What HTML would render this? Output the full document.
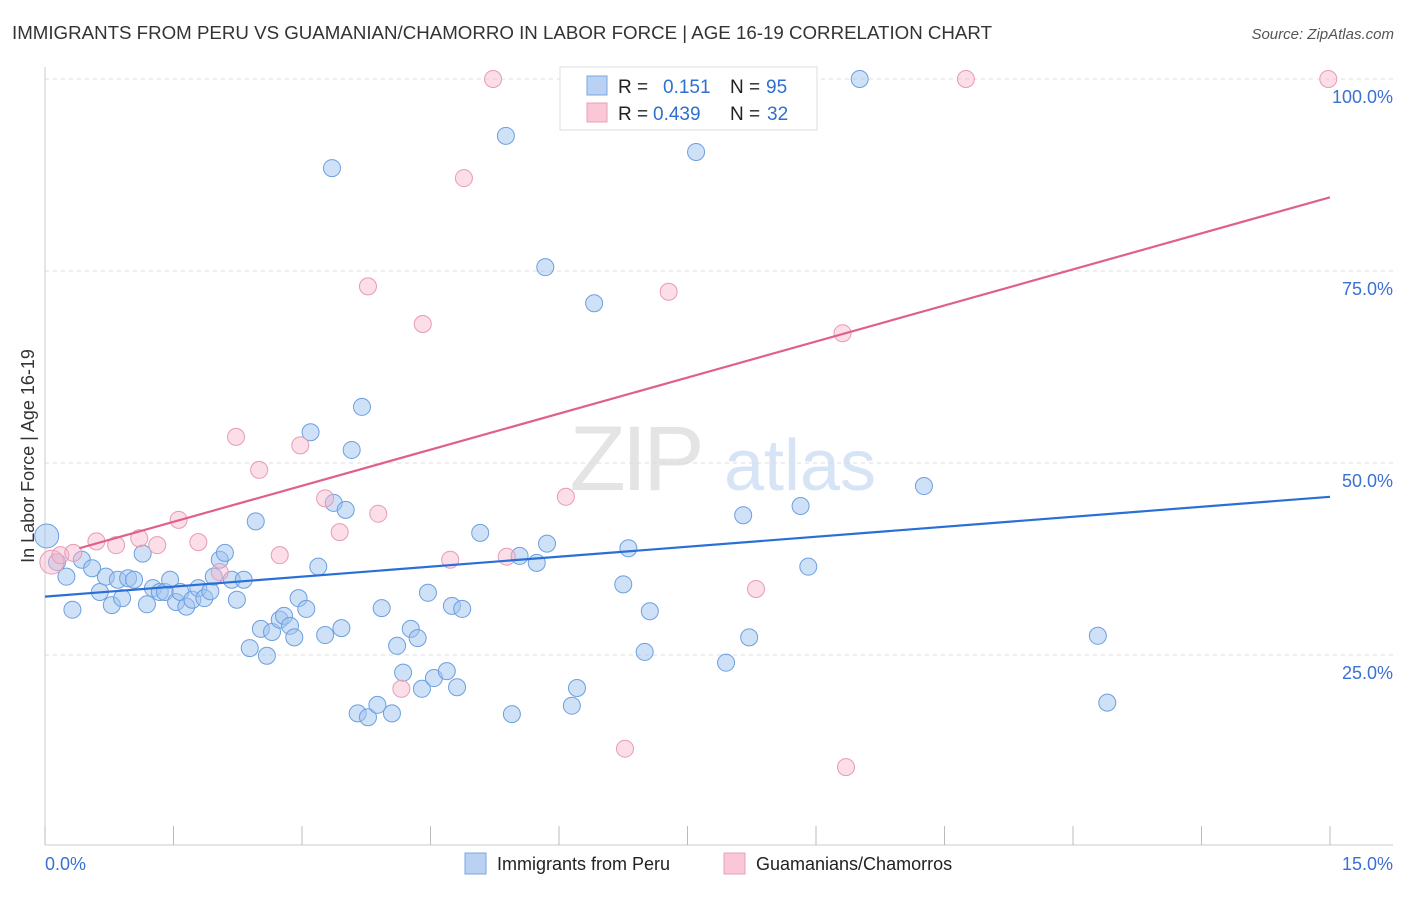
<!DOCTYPE html>
<html><head><meta charset="utf-8"><style>
body{margin:0;background:#fff;font-family:"Liberation Sans",sans-serif;}
svg text{font-family:"Liberation Sans",sans-serif;}
</style></head><body>
<svg id="chart" width="1406" height="892" viewBox="0 0 1406 892" xmlns="http://www.w3.org/2000/svg">
<text x="12" y="39" font-size="18" fill="#333" textLength="980" lengthAdjust="spacingAndGlyphs">IMMIGRANTS FROM PERU VS GUAMANIAN/CHAMORRO IN LABOR FORCE | AGE 16-19 CORRELATION CHART</text>
<text x="1394" y="39" font-size="15" fill="#555" text-anchor="end" font-style="italic">Source: ZipAtlas.com</text>
<g>
<text x="635" y="490" font-size="92" fill="#e4e4e4" text-anchor="middle" font-family="Liberation Serif" letter-spacing="-4">ZIP</text>
<text x="800" y="490" font-size="72" fill="#d6e4f6" text-anchor="middle">atlas</text>
</g>
<g id="grid"></g>
<g id="axes"></g>
<g id="marks"></g>
<g>
<rect x="560" y="67" width="257" height="63" fill="#fff" stroke="#ddd"/>
<rect x="587" y="76" width="20" height="19" fill="#b9d2f4" stroke="#7aa6e0"/>
<rect x="587" y="103" width="20" height="19" fill="#f9c7d6" stroke="#e9a0b8"/>
<text y="93" font-size="19" fill="#222"><tspan x="618">R =</tspan><tspan x="663" fill="#2f6fd0">0.151</tspan><tspan x="730">N =</tspan><tspan x="766" fill="#2f6fd0">95</tspan></text>
<text y="120" font-size="19" fill="#222"><tspan x="618">R =</tspan><tspan x="653" fill="#2f6fd0">0.439</tspan><tspan x="730">N =</tspan><tspan x="767" fill="#2f6fd0">32</tspan></text>
</g>
<g>
<rect x="465" y="853" width="21" height="21" fill="#b9d2f4" stroke="#7aa6e0"/>
<text x="497" y="870" font-size="18" fill="#222">Immigrants from Peru</text>
<rect x="724" y="853" width="21" height="21" fill="#f9c7d6" stroke="#e9a0b8"/>
<text x="756" y="870" font-size="18" fill="#222">Guamanians/Chamorros</text>
</g>
<text x="34" y="456" font-size="18" fill="#333" text-anchor="middle" transform="rotate(-90 34 456)">In Labor Force | Age 16-19</text>
</svg>
<script>
const blueX=[0.02,0.14,0.25,0.32,0.43,0.55,0.64,0.71,0.78,0.85,0.90,0.97,1.04,1.14,1.19,1.26,1.34,1.40,1.46,1.53,1.58,1.65,1.72,1.79,1.86,1.93,1.97,2.04,2.10,2.18,2.24,2.32,2.46,2.39,2.52,2.59,2.65,2.74,2.79,2.86,2.91,2.96,3.05,3.10,3.19,3.27,3.35,3.37,3.46,3.51,3.58,3.65,3.70,3.77,3.88,3.93,4.05,4.11,4.18,4.27,4.35,4.40,4.47,4.54,4.69,4.75,4.81,4.87,5.08,5.38,5.45,5.54,5.74,5.84,5.86,6.15,6.21,6.41,6.75,6.81,7.00,7.06,7.60,7.95,8.15,8.22,8.82,8.91,9.51,10.26,12.29,12.40];
const blueY=[40.5,37.1,35.2,30.9,37.4,36.3,33.2,35.2,31.5,34.8,32.4,35.0,34.8,38.2,31.6,33.7,33.2,33.2,34.8,31.9,33.2,31.3,32.2,33.7,32.4,33.3,35.2,37.4,38.3,34.8,32.2,34.8,42.4,25.9,28.4,24.9,28.0,29.6,30.1,28.8,27.3,32.4,31.0,54.0,36.5,27.6,88.4,44.8,28.5,43.9,51.7,17.4,57.3,16.9,18.5,31.1,17.4,26.2,22.7,28.4,27.2,20.6,33.1,22.0,22.9,31.4,20.8,31.0,40.9,92.6,17.3,37.9,37.0,75.5,39.5,18.4,20.7,70.8,34.2,38.9,25.4,30.7,90.5,24.0,43.2,27.3,44.4,36.5,100,47.0,27.5,18.8];
const pinkX=[0.08,0.18,0.33,0.60,0.83,1.10,1.31,1.56,1.79,2.04,2.23,2.50,2.74,2.98,3.27,3.44,3.77,3.89,4.16,4.41,4.73,4.89,5.23,5.39,6.08,6.77,7.28,8.30,9.31,9.35,10.75,14.98];
const pinkY=[37.1,38.0,38.3,39.8,39.3,40.2,39.3,42.6,39.7,35.8,53.4,49.1,38.0,52.3,45.4,41.0,73.0,43.4,20.6,68.1,37.4,87.1,100,37.8,45.6,12.8,72.3,33.6,66.9,10.4,100,100];
const blueTrend=[[0,32.6],[15,45.6]];
const pinkTrend=[[0.4,38.9],[15,84.6]];
const yTicks=[25,50,75,100];
const yTickLabels=["25.0%","50.0%","75.0%","100.0%"];
const xTicks=[0,1.5,3,4.5,6,7.5,9,10.5,12,13.5,15];
const NS="http://www.w3.org/2000/svg";
const sx=v=>45+v*85.667, sy=v=>847-v*7.68;
function mk(tag,attrs,parent){const e=document.createElementNS(NS,tag);for(const k in attrs)e.setAttribute(k,attrs[k]);parent.appendChild(e);return e;}
const grid=document.getElementById('grid'),axes=document.getElementById('axes'),marks=document.getElementById('marks');
yTicks.forEach((t,i)=>{
 const l=mk('line',{x1:45,x2:1393,y1:sy(t),y2:sy(t),stroke:'#ddd','stroke-dasharray':'4,4'},grid);
 
 
 const tx=mk('text',{x:1393,y:sy(t)+24,'font-size':18,fill:'#3a70d4','text-anchor':'end'},axes);
 tx.textContent=yTickLabels[i];
 
 
});
let a=mk('line',{x1:45,x2:45,y1:67,y2:845,stroke:'#ccc'},axes);


a=mk('line',{x1:45,x2:1393,y1:845,y2:845,stroke:'#ccc'},axes);


xTicks.forEach(t=>{const l=mk('line',{x1:sx(t),x2:sx(t),y1:826,y2:845,stroke:'#bbb'},axes);
 
 });
let t0=mk('text',{x:45,y:870,'font-size':18,fill:'#3a70d4'},axes);t0.textContent='0.0%';


t0=mk('text',{x:1393,y:870,'font-size':18,fill:'#3a70d4','text-anchor':'end'},axes);t0.textContent='15.0%';


blueX.forEach((x,i)=>{const c=mk('circle',{cx:sx(x),cy:sy(blueY[i]),r:i===0?12:8.5,fill:'rgba(160,196,240,0.5)',stroke:'#6c9fe0','stroke-width':1},marks);
 
 });
pinkX.forEach((x,i)=>{const c=mk('circle',{cx:sx(x),cy:sy(pinkY[i]),r:i===0?12:8.5,fill:'rgba(246,182,202,0.45)',stroke:'#e99ab4','stroke-width':1},marks);
 
 });
let tl=mk('line',{x1:sx(blueTrend[0][0]),y1:sy(blueTrend[0][1]),x2:sx(blueTrend[1][0]),y2:sy(blueTrend[1][1]),stroke:'#2a6fd6','stroke-width':2.2},marks);


tl=mk('line',{x1:sx(pinkTrend[0][0]),y1:sy(pinkTrend[0][1]),x2:sx(pinkTrend[1][0]),y2:sy(pinkTrend[1][1]),stroke:'#e0608c','stroke-width':2.2},marks);


</script>
</body></html>
